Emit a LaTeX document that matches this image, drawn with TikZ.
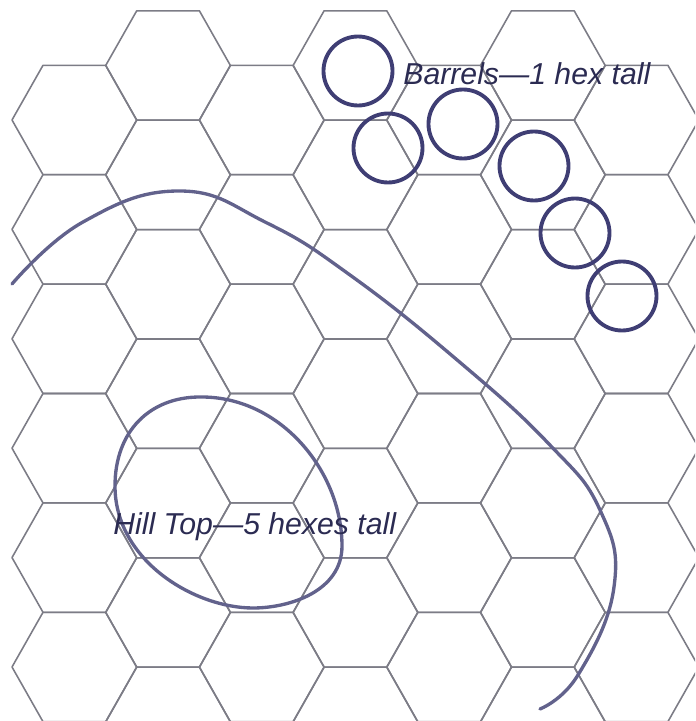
\documentclass[tikz,border=0pt]{standalone}
\usepackage{fontspec}
\setmainfont{Liberation Sans}
\definecolor{HexGray}{HTML}{7C7C86}
\definecolor{BarrelNavy}{HTML}{3F3E74}
\definecolor{RidgeSlate}{HTML}{62628C}
\definecolor{LabelInk}{HTML}{2B2B52}
\tikzset{
  hexline/.style={HexGray,line width=.9pt,line join=round},
  barrel/.style={BarrelNavy,line width=2.2pt},
  ridge/.style={RidgeSlate,line width=1.9pt,line cap=round},
  maplabel/.style={anchor=base west,inner sep=0pt,text=LabelInk,
                   font=\fontsize{17.2}{20}\selectfont\itshape},
}

\begin{document}
\begin{tikzpicture}
\path[use as bounding box] (0,0) rectangle (13.90,14.42);
\begin{scope}
\clip (0,0) rectangle (13.90,14.42);
% odd columns
\foreach \x in {0.24,3.988,7.736,11.484} {
  \foreach \k in {0,...,5} {
    \draw[hexline,shift={(\x,12.02-2.188*\k)}] (0,0) -- (.62,1.094) -- (1.874,1.094)
      -- (2.494,0) -- (1.874,-1.094) -- (.62,-1.094) -- cycle;
  }
}
% even columns
\foreach \x in {2.114,5.862,9.61} {
  \foreach \k in {0,...,6} {
    \draw[hexline,shift={(\x,13.11-2.188*\k)}] (0,0) -- (.62,1.094) -- (1.874,1.094)
      -- (2.494,0) -- (1.874,-1.094) -- (.62,-1.094) -- cycle;
  }
}
\end{scope}
% ridge line and hill top
\draw[ridge] plot[smooth,tension=.75] coordinates {
  (0.24,8.74) (1.66,9.98) (3.60,10.60) (5.34,9.96) (7.00,8.92) (9.12,7.24)
  (10.96,5.56) (12.00,4.22) (12.28,2.68) (11.56,0.92) (10.80,0.24)};
\draw[ridge] (4.00,6.48) .. controls (5.60,6.50) and (6.84,5.00) .. (6.84,3.50)
  .. controls (6.84,2.60) and (5.80,2.26) .. (5.06,2.26)
  .. controls (3.90,2.26) and (2.30,3.20) .. (2.30,4.70)
  .. controls (2.30,5.80) and (3.00,6.48) .. (4.00,6.48) -- cycle;
% barrels
\foreach \x/\y in {7.16/13.00,7.76/11.46,9.26/11.94,10.68/11.10,11.50/9.76,12.44/8.50} {
  \draw[barrel] (\x,\y) circle (.69);
}
\node[maplabel] (barrels) at (8.06,12.72) {Barrels—1 hex tall};
\node[maplabel] (hilltop) at (2.26,3.72) {Hill Top—5 hexes tall};
\end{tikzpicture}
\end{document}
